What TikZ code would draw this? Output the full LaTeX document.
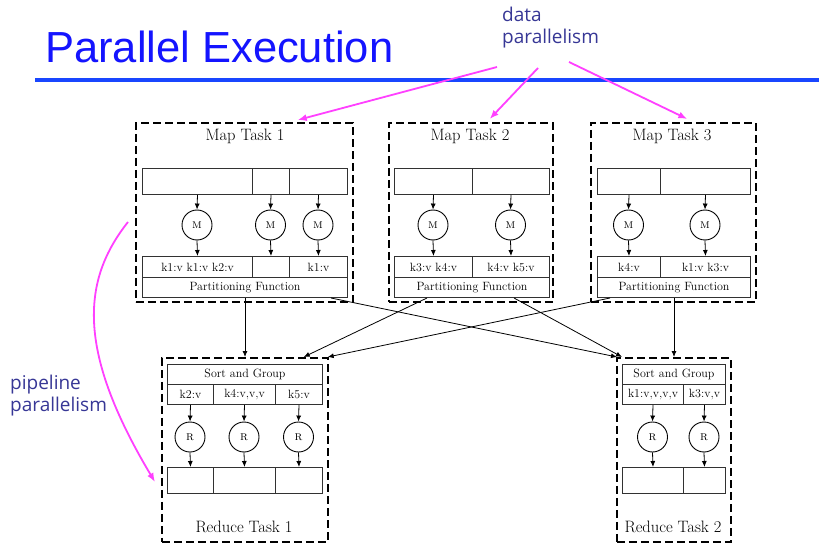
\documentclass[tikz,border=0pt]{standalone}
\usepackage{fontspec}
\usetikzlibrary{arrows.meta,calc}
\newfontfamily\titlefont{Liberation Sans}
\newfontfamily\notefont{Open Sans}
\definecolor{titleblue}{RGB}{20,20,255}
\definecolor{ruleblue}{RGB}{25,70,255}
\definecolor{noteblue}{RGB}{55,55,150}
\definecolor{pinkline}{RGB}{255,64,255}
\definecolor{cellgray}{RGB}{50,50,50}
\begin{document}
\begin{tikzpicture}[x=1pt,y=-1pt,
  taskbox/.style={draw=black, line width=1.7pt, dash pattern=on 8pt off 4pt, anchor=north west, inner sep=0pt},
  cell/.style={draw=cellgray, line width=1pt, anchor=north west, inner sep=0pt, font=\fontsize{12}{13}\selectfont},
  mc/.style={draw=black, circle, minimum size=30pt, inner sep=0pt, line width=0.9pt, font=\fontsize{13}{14}\selectfont},
  tasktitle/.style={font=\fontsize{16.5}{19}\selectfont, inner sep=0pt},
  arr/.style={-{Latex[length=6pt,width=5pt]}, line width=0.8pt, draw=black},
  pinkarr/.style={-{Latex[length=9pt,width=7pt]}, line width=1.8pt, draw=pinkline},
  note/.style={font=\notefont\fontsize{19}{22}\selectfont, text=noteblue, align=left, anchor=north west, inner sep=0pt}]
\fill[white] (0,0) rectangle (819,548);
\useasboundingbox (0,0) rectangle (819,548);

% title and rule
\node[font=\titlefont\fontsize{43.5}{50}\selectfont, text=titleblue, anchor=base west, inner sep=0pt] (title) at (45,63) {Parallel Execution};
\coordinate (rl) at (35,80);
\coordinate (rr) at (819,80);
\draw[ruleblue, line width=3.5pt] (rl) -- (rr);

% notes
\node[note] (dp) at (502,7) {data\\parallelism};
\node[note] (pp) at (10,375) {pipeline\\parallelism};

% ---------- Map Task 1 ----------
\node[taskbox, minimum width=217pt, minimum height=179pt] (mt1) at (135,122) {};
\node[tasktitle] (mt1t) at (245,136) {Map Task 1};
\node[cell, minimum width=110pt, minimum height=26pt] (i1a) at (142,168) {};
\node[cell, minimum width=37pt, minimum height=26pt] (i1b) at (252,168) {};
\node[cell, minimum width=58pt, minimum height=26pt] (i1c) at (289,168) {};
\node[mc] (m1a) at (197,225) {\textsc{m}};
\node[mc] (m1b) at (270.5,225) {\textsc{m}};
\node[mc] (m1c) at (318,225) {\textsc{m}};
\node[cell, minimum width=110pt, minimum height=21pt] (o1a) at (142,256) {k1:v k1:v k2:v};
\node[cell, minimum width=37pt, minimum height=21pt] (o1b) at (252,256) {};
\node[cell, minimum width=58pt, minimum height=21pt] (o1c) at (289,256) {k1:v};
\node[cell, minimum width=205pt, minimum height=20pt] (pf1) at (142,277) {Partitioning Function};
\foreach \c in {a,b,c}{
  \draw[arr] (i1\c.south) -- (m1\c.north);
  \draw[arr] (m1\c.south) -- (o1\c.north);
}

% ---------- Map Task 2 ----------
\node[taskbox, minimum width=164pt, minimum height=179pt] (mt2) at (388,122) {};
\node[tasktitle] (mt2t) at (470,136) {Map Task 2};
\node[cell, minimum width=78pt, minimum height=26pt] (i2a) at (394,168) {};
\node[cell, minimum width=77pt, minimum height=26pt] (i2b) at (472,168) {};
\node[mc] (m2a) at (433,225) {\textsc{m}};
\node[mc] (m2b) at (510.5,225) {\textsc{m}};
\node[cell, minimum width=78pt, minimum height=21pt] (o2a) at (394,256) {k3:v k4:v};
\node[cell, minimum width=77pt, minimum height=21pt] (o2b) at (472,256) {k4:v k5:v};
\node[cell, minimum width=155pt, minimum height=20pt] (pf2) at (394,277) {Partitioning Function};
\foreach \c in {a,b}{
  \draw[arr] (i2\c.south) -- (m2\c.north);
  \draw[arr] (m2\c.south) -- (o2\c.north);
}

% ---------- Map Task 3 ----------
\node[taskbox, minimum width=165pt, minimum height=179pt] (mt3) at (590,122) {};
\node[tasktitle] (mt3t) at (672,136) {Map Task 3};
\node[cell, minimum width=63pt, minimum height=26pt] (i3a) at (597,168) {};
\node[cell, minimum width=90pt, minimum height=26pt] (i3b) at (660,168) {};
\node[mc] (m3a) at (628.5,225) {\textsc{m}};
\node[mc] (m3b) at (705,225) {\textsc{m}};
\node[cell, minimum width=63pt, minimum height=21pt] (o3a) at (597,256) {k4:v};
\node[cell, minimum width=90pt, minimum height=21pt] (o3b) at (660,256) {k1:v k3:v};
\node[cell, minimum width=153pt, minimum height=20pt] (pf3) at (597,277) {Partitioning Function};
\foreach \c in {a,b}{
  \draw[arr] (i3\c.south) -- (m3\c.north);
  \draw[arr] (m3\c.south) -- (o3\c.north);
}

% ---------- Reduce Task 1 ----------
\node[taskbox, minimum width=166pt, minimum height=184pt] (rt1) at (161,357) {};
\node[tasktitle] (rt1t) at (244,527) {Reduce Task 1};
\node[cell, minimum width=155pt, minimum height=20pt] (sg1) at (167,364) {Sort and Group};
\node[cell, minimum width=46pt, minimum height=20pt] (k1a) at (167,384) {k2:v};
\node[cell, minimum width=62pt, minimum height=20pt] (k1b) at (213,384) {k4:v,v,v};
\node[cell, minimum width=47pt, minimum height=20pt] (k1c) at (275,384) {k5:v};
\node[mc] (r1a) at (190,437) {\textsc{r}};
\node[mc] (r1b) at (244,437) {\textsc{r}};
\node[mc] (r1c) at (298.5,437) {\textsc{r}};
\node[cell, minimum width=46pt, minimum height=26pt] (q1a) at (167,467) {};
\node[cell, minimum width=62pt, minimum height=26pt] (q1b) at (213,467) {};
\node[cell, minimum width=47pt, minimum height=26pt] (q1c) at (275,467) {};
\foreach \c in {a,b,c}{
  \draw[arr] (k1\c.south) -- (r1\c.north);
  \draw[arr] (r1\c.south) -- (q1\c.north);
}

% ---------- Reduce Task 2 ----------
\node[taskbox, minimum width=114pt, minimum height=184pt] (rt2) at (616,357) {};
\node[tasktitle] (rt2t) at (673,527) {Reduce Task 2};
\node[cell, minimum width=103pt, minimum height=20pt] (sg2) at (622,364) {Sort and Group};
\node[cell, minimum width=61pt, minimum height=20pt] (k2a) at (622,384) {k1:v,v,v,v};
\node[cell, minimum width=42pt, minimum height=20pt] (k2b) at (683,384) {k3:v,v};
\node[mc] (r2a) at (652.5,437) {\textsc{r}};
\node[mc] (r2b) at (704,437) {\textsc{r}};
\node[cell, minimum width=61pt, minimum height=26pt] (q2a) at (622,467) {};
\node[cell, minimum width=42pt, minimum height=26pt] (q2b) at (683,467) {};
\foreach \c in {a,b}{
  \draw[arr] (k2\c.south) -- (r2\c.north);
  \draw[arr] (r2\c.south) -- (q2\c.north);
}

% ---------- shuffle connectors ----------
\draw[arr] (pf1.south) -- (pf1.south |- rt1.north);
\draw[arr] ([xshift=-17pt]pf1.south east) -- ([xshift=1pt]rt2.north west);
\draw[arr] ([xshift=33pt]pf2.south west) -- ([xshift=-25pt]rt1.north east);
\draw[arr] ([xshift=-36pt]pf2.south east) -- ([xshift=6pt]rt2.north west);
\draw[arr] ([xshift=13pt]pf3.south west) -- ([xshift=-1pt]rt1.north east);
\draw[arr] (pf3.south) -- (pf3.south |- rt2.north);

% ---------- magenta arrows ----------
\coordinate (dpa) at (497,67);
\coordinate (dpb) at (538,68);
\coordinate (dpc) at (569,62);
\draw[pinkarr] (dpa) -- ([xshift=-56pt,yshift=2pt]mt1.north east);
\draw[pinkarr] (dpb) -- ([xshift=-64pt,yshift=3pt]mt2.north east);
\draw[pinkarr] (dpc) -- ([xshift=14pt,yshift=3pt]mt3.north);
\coordinate (ppa) at (128,222);
\coordinate (ppb) at (155,482);
\draw[pinkarr] (ppa) .. controls (82,280) and (76,350) .. (ppb);
\end{tikzpicture}
\end{document}
